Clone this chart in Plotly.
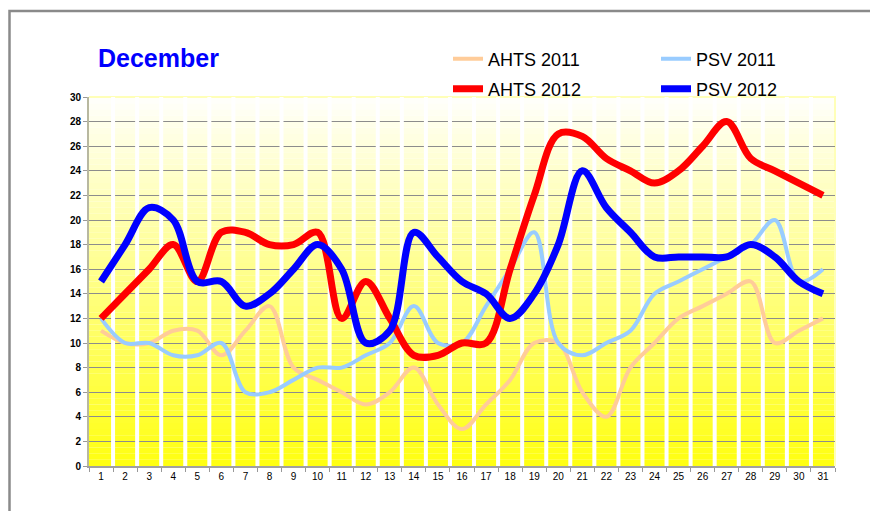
import plotly.graph_objects as go

days = [str(d) for d in range(1, 32)]
ahts_2011 = [11, 10, 10, 11, 11, 9, 11, 13, 8, 7, 6, 5, 6, 8, 5, 3, 5, 7, 10, 10, 6, 4, 8, 10, 12, 13, 14, 15, 10, 11, 12]
psv_2011 = [12, 10, 10, 9, 9, 10, 6, 6, 7, 8, 8, 9, 10, 13, 10, 10, 13, 16, 19, 10, 9, 10, 11, 14, 15, 16, 17, 18, 20, 15, 16]
ahts_2012 = [12, 14, 16, 18, 15, 19, 19, 18, 18, 19, 12, 15, 12, 9, 9, 10, 10, 16, 22, 27, 26.8, 25, 24, 23, 24, 26, 28, 25, 24, 23, 22]
psv_2012 = [15, 18, 21, 20, 15, 15, 13, 14, 16, 18, 16, 10, 11, 19, 17, 15, 14, 12, 14, 18, 24, 21, 19, 17, 17, 17, 17, 18, 17, 15, 14]
y_ticks = list(range(0, 31, 2))

FONT = "Liberation Sans, Arial, sans-serif"

series = [
    ("AHTS 2011", ahts_2011, "#FFCC99", 4, "legend"),
    ("PSV 2011", psv_2011, "#99CCFF", 4, "legend2"),
    ("AHTS 2012", ahts_2012, "#FF0000", 7, "legend3"),
    ("PSV 2012", psv_2012, "#0000FF", 7, "legend4"),
]

fig = go.Figure()
for name, vals, color, width, leg in series:
    fig.add_trace(go.Scatter(
        x=days, y=vals, name=name, mode="lines", showlegend=True,
        line=dict(color=color, width=width, shape="spline", smoothing=1),
        legend=leg,
    ))

shapes = []
# vertical gradient background (white at top -> yellow at bottom)
n = 60
for k in range(n):
    t = k / (n - 1)
    b = int(round(18 + (250 - 18) * t))
    shapes.append(dict(type="rect", xref="paper", yref="y", x0=0, x1=1,
                       y0=30 * k / n, y1=30 * (k + 1) / n,
                       fillcolor=f"rgb(255,255,{b})", line=dict(width=0), layer="below"))
# white separators between day columns (above gridlines)
for i in range(len(days) - 1):
    shapes.append(dict(type="line", xref="x", yref="y", x0=i + 0.5, x1=i + 0.5, y0=0, y1=30,
                       line=dict(color="white", width=4), layer="between"))
# light yellow border top/right of plot area
shapes.append(dict(type="path", xref="paper", yref="paper", path="M 0,1 L 1,1 L 1,0",
                   line=dict(color="#FFFFB8", width=2), layer="between"))

# the page body adds an 8px offset; positions below are given in screen pixels
OFF = 8
PL, PR, PT, PB = 89, 835, 97, 466  # plot area in screen pixels


def lx(px):
    return (px - PL) / (PR - PL)


def ly(py):
    return (PB - py) / (PB - PT)


# outer frame
shapes.append(dict(type="rect", xref="paper", yref="paper",
                   x0=lx(9.5), x1=1.2, y0=-0.3, y1=ly(11),
                   line=dict(color="#8A8A8A", width=2.5), fillcolor="rgba(0,0,0,0)", layer="above"))

legend_common = dict(orientation="h", xanchor="left", yanchor="middle",
                     bgcolor="rgba(0,0,0,0)", borderwidth=0, visible=True,
                     font=dict(family=FONT, size=18, color="black"))

W, H = 878 - OFF, 511 - OFF
fig.update_layout(
    width=W, height=H,
    margin=dict(l=PL - OFF, r=W - (PR - OFF), t=PT - OFF, b=H - (PB - OFF), autoexpand=False),
    paper_bgcolor="white", plot_bgcolor="white",
    shapes=shapes,
    annotations=[dict(text="<b>December</b>", xref="paper", yref="paper",
                      x=lx(96), y=ly(58), xanchor="left", yanchor="middle",
                      showarrow=False, font=dict(family=FONT, size=25, color="#0000FF"))],
    legend=dict(x=lx(448), y=ly(59), **legend_common),
    legend2=dict(x=lx(656), y=ly(59), **legend_common),
    legend3=dict(x=lx(448), y=ly(89), **legend_common),
    legend4=dict(x=lx(656), y=ly(89), **legend_common),
    xaxis=dict(type="category", range=[-0.5, 30.5], tickson="boundaries",
               ticks="outside", ticklen=4, tickcolor="#999999",
               showgrid=False, showline=True, linecolor="#A0A0A0", linewidth=2,
               tickfont=dict(family=FONT, size=10, color="black"), zeroline=False,
               fixedrange=True),
    yaxis=dict(range=[0, 30], tickvals=y_ticks, ticks="outside", ticklen=4,
               tickcolor="#999999", showgrid=True, gridcolor="#8C8C8C", gridwidth=1,
               showline=True, linecolor="#B8B8A0", linewidth=2, zeroline=False,
               tickfont=dict(family=FONT, size=10, color="black", weight="bold"),
               fixedrange=True),
)

fig.write_html("out.html")
